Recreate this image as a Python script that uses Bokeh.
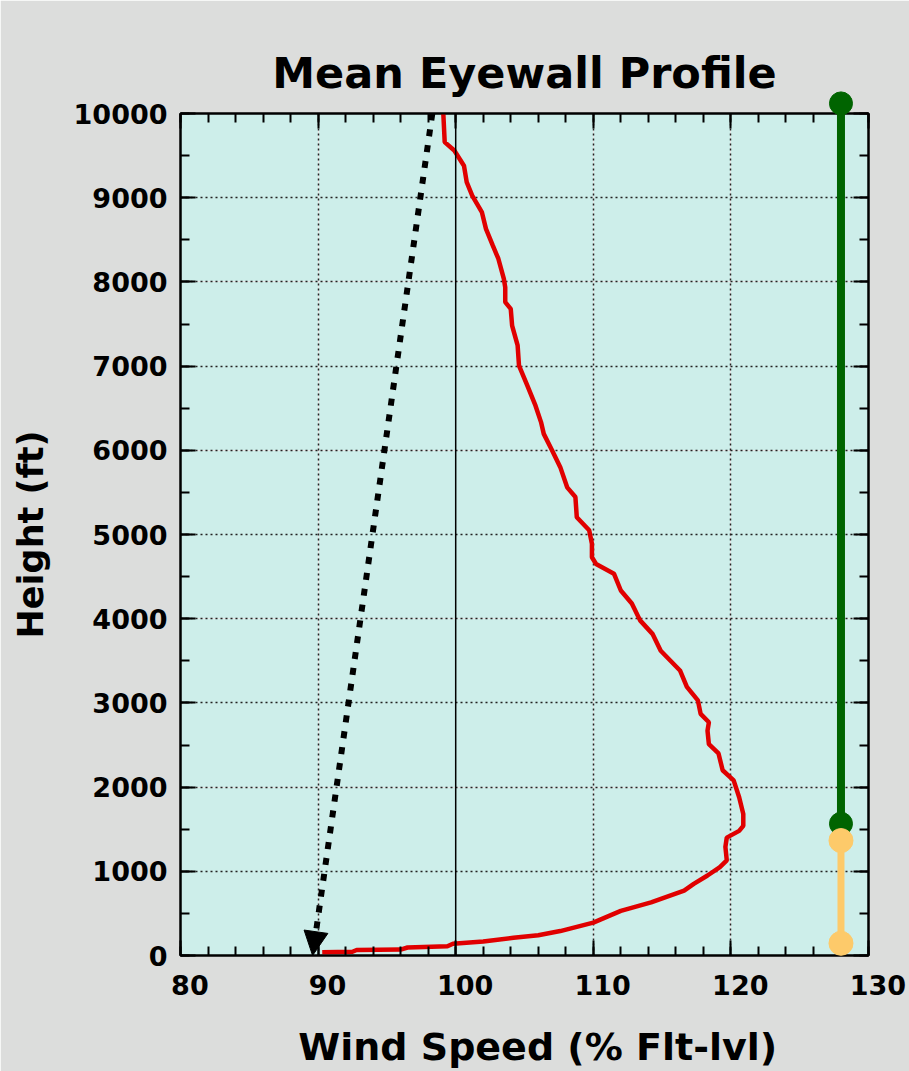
from bokeh.plotting import figure
from bokeh.models import (Range1d, LinearAxis, FixedTicker, Arrow, NormalHead,
                          Span, Grid)
from bokeh.embed import file_html
from bokeh.resources import INLINE

# ---------------- data ----------------
profile_speed = [90.3, 92.5, 92.8, 96.0, 96.5, 99.4, 99.8, 102.0, 104.2, 106.0,
                 107.6, 110.0, 112.0, 114.2, 116.6, 117.3, 118.3, 119.2, 119.7, 119.6,
                 119.7, 120.6, 120.9, 120.9, 120.6, 120.2, 119.4, 119.1, 118.4, 118.3,
                 118.4, 117.8, 117.6, 116.8, 116.3, 114.9, 114.3, 113.4, 112.8, 112.0,
                 111.5, 110.2, 109.9, 109.9, 109.7, 108.8, 108.7, 108.1, 107.6, 107.0,
                 106.4, 106.2, 105.8, 105.2, 104.6, 104.5, 104.1, 104.0, 103.6, 103.6,
                 103.5, 103.1, 102.7, 102.2, 101.9, 101.2, 100.8, 100.6, 99.9, 99.2,
                 99.1]
profile_height = [40, 45, 65, 70, 95, 110, 140, 165, 210, 240,
                  290, 390, 530, 630, 770, 850, 950, 1050, 1130, 1290,
                  1400, 1480, 1540, 1680, 1880, 2080, 2200, 2400, 2510, 2670,
                  2770, 2870, 3030, 3190, 3385, 3620, 3820, 3980, 4180, 4335,
                  4535, 4650, 4730, 4890, 5050, 5205, 5445, 5560, 5800, 6000,
                  6195, 6335, 6530, 6770, 7005, 7245, 7480, 7680, 7760, 7935,
                  8035, 8275, 8430, 8630, 8830, 9025, 9185, 9380, 9560, 9660,
                  10000]

arrow_speed = [98.3, 89.6]
arrow_height = [10000, 0]

layer_speed = [128, 128]
green_height = [10120, 1565]
yellow_height = [1365, 145]

x_ticks = [80, 90, 100, 110, 120, 130]
x_tick_labels = ["80", "90", "100", "110", "120", "130"]
y_ticks = [0, 1000, 2000, 3000, 4000, 5000, 6000, 7000, 8000, 9000, 10000]
x_grid = [90, 110, 120]
y_grid = [1000, 2000, 3000, 4000, 5000, 6000, 7000, 8000, 9000]

title_text = "Mean Eyewall Profile"
x_label = "Wind Speed (% Flt-lvl)"
y_label = "Height (ft)"

# ---------------- styling ----------------
FONT = "DejaVu Sans"
NBSP2 = "\u00a0\u00a0"   # nudges centred texts a little right, as in the original
x_minor = list(range(80, 131, 2))
y_minor = list(range(0, 10001, 500))

p = figure(width=909, height=1071,
           x_range=Range1d(80, 130), y_range=Range1d(0, 10000),
           x_axis_location=None, y_axis_location=None,
           output_backend="svg", toolbar_location=None,
           min_border_left=180, min_border_right=41,
           min_border_top=113, min_border_bottom=116)

p.title.text = title_text
p.title.text_font = FONT
p.title.text_font_size = "43px"
p.title.text_font_style = "bold"
p.title.align = "center"
p.title.text_color = "black"
p.title.standoff = 31

p.background_fill_color = "#cdeeea"
p.border_fill_color = "#dcdddc"
p.outline_line_color = "black"
p.outline_line_width = 2

def tick_axis(axis, ticks, minor):
    axis.ticker = FixedTicker(ticks=ticks, minor_ticks=minor)
    axis.major_tick_in = 15
    axis.major_tick_out = 0
    axis.minor_tick_in = 9
    axis.minor_tick_out = 0
    axis.major_tick_line_width = 2
    axis.minor_tick_line_width = 2
    axis.major_tick_line_color = "black"
    axis.minor_tick_line_color = "black"
    axis.axis_line_color = "black"
    axis.axis_line_width = 2
    return axis

def hide_labels(axis):
    axis.major_label_text_font_size = "1px"
    axis.major_label_text_color = None
    axis.major_label_standoff = 0
    return axis

# bottom axis
xb = tick_axis(LinearAxis(), x_ticks, x_minor)
xb.major_label_overrides = {t: NBSP2 + s for t, s in zip(x_ticks, x_tick_labels)}
xb.major_label_text_font = FONT
xb.major_label_text_font_size = "27px"
xb.major_label_text_font_style = "bold"
xb.major_label_text_color = "black"
xb.major_label_standoff = 14
xb.axis_label = NBSP2 + x_label
xb.axis_label_text_font = FONT
xb.axis_label_text_font_size = "38px"
xb.axis_label_text_font_style = "bold"
xb.axis_label_text_color = "black"
xb.axis_label_standoff = 21
p.add_layout(xb, "below")

# left axis
yl = tick_axis(LinearAxis(), y_ticks, y_minor)
yl.major_label_text_font = FONT
yl.major_label_text_font_size = "27px"
yl.major_label_text_font_style = "bold"
yl.major_label_text_color = "black"
yl.major_label_standoff = 13
yl.axis_label = y_label
yl.axis_label_text_font = FONT
yl.axis_label_text_font_size = "35px"
yl.axis_label_text_font_style = "bold"
yl.axis_label_text_color = "black"
yl.axis_label_standoff = 20
p.add_layout(yl, "left")

# mirrored ticks on top and right
p.add_layout(hide_labels(tick_axis(LinearAxis(), x_ticks, x_minor)), "above")
p.add_layout(hide_labels(tick_axis(LinearAxis(), y_ticks, y_minor)), "right")

# dotted grid
gx = Grid(dimension=0, ticker=FixedTicker(ticks=x_grid),
          grid_line_color="#222222", grid_line_width=1.5, grid_line_dash="2 3")
gy = Grid(dimension=1, ticker=FixedTicker(ticks=y_grid),
          grid_line_color="#222222", grid_line_width=1.5, grid_line_dash="2 3")
p.add_layout(gx)
p.add_layout(gy)
p.add_layout(Span(location=100, dimension="height", line_color="black", line_width=1.5))

# red profile
p.line(profile_speed, profile_height, line_color="#e00000", line_width=4.5)

# dotted arrow
arr = Arrow(x_start=arrow_speed[0], y_start=arrow_height[0],
            x_end=arrow_speed[1], y_end=arrow_height[1],
            line_color="black", line_width=6, line_dash="7 9", line_cap="butt",
            end=NormalHead(size=24, fill_color="black", line_color="black", line_width=1))
p.add_layout(arr)

# layer markers
p.line(layer_speed, green_height, line_color="#006400", line_width=8, level="overlay")
p.scatter(layer_speed, green_height, size=23, fill_color="#006400", line_color="#006400", level="overlay")
p.line(layer_speed, yellow_height, line_color="#fdca6a", line_width=7, level="overlay")
p.scatter(layer_speed, yellow_height, size=24, fill_color="#fdca6a", line_color="#fdca6a", level="overlay")

open("out.html", "w").write(file_html(p, INLINE))
